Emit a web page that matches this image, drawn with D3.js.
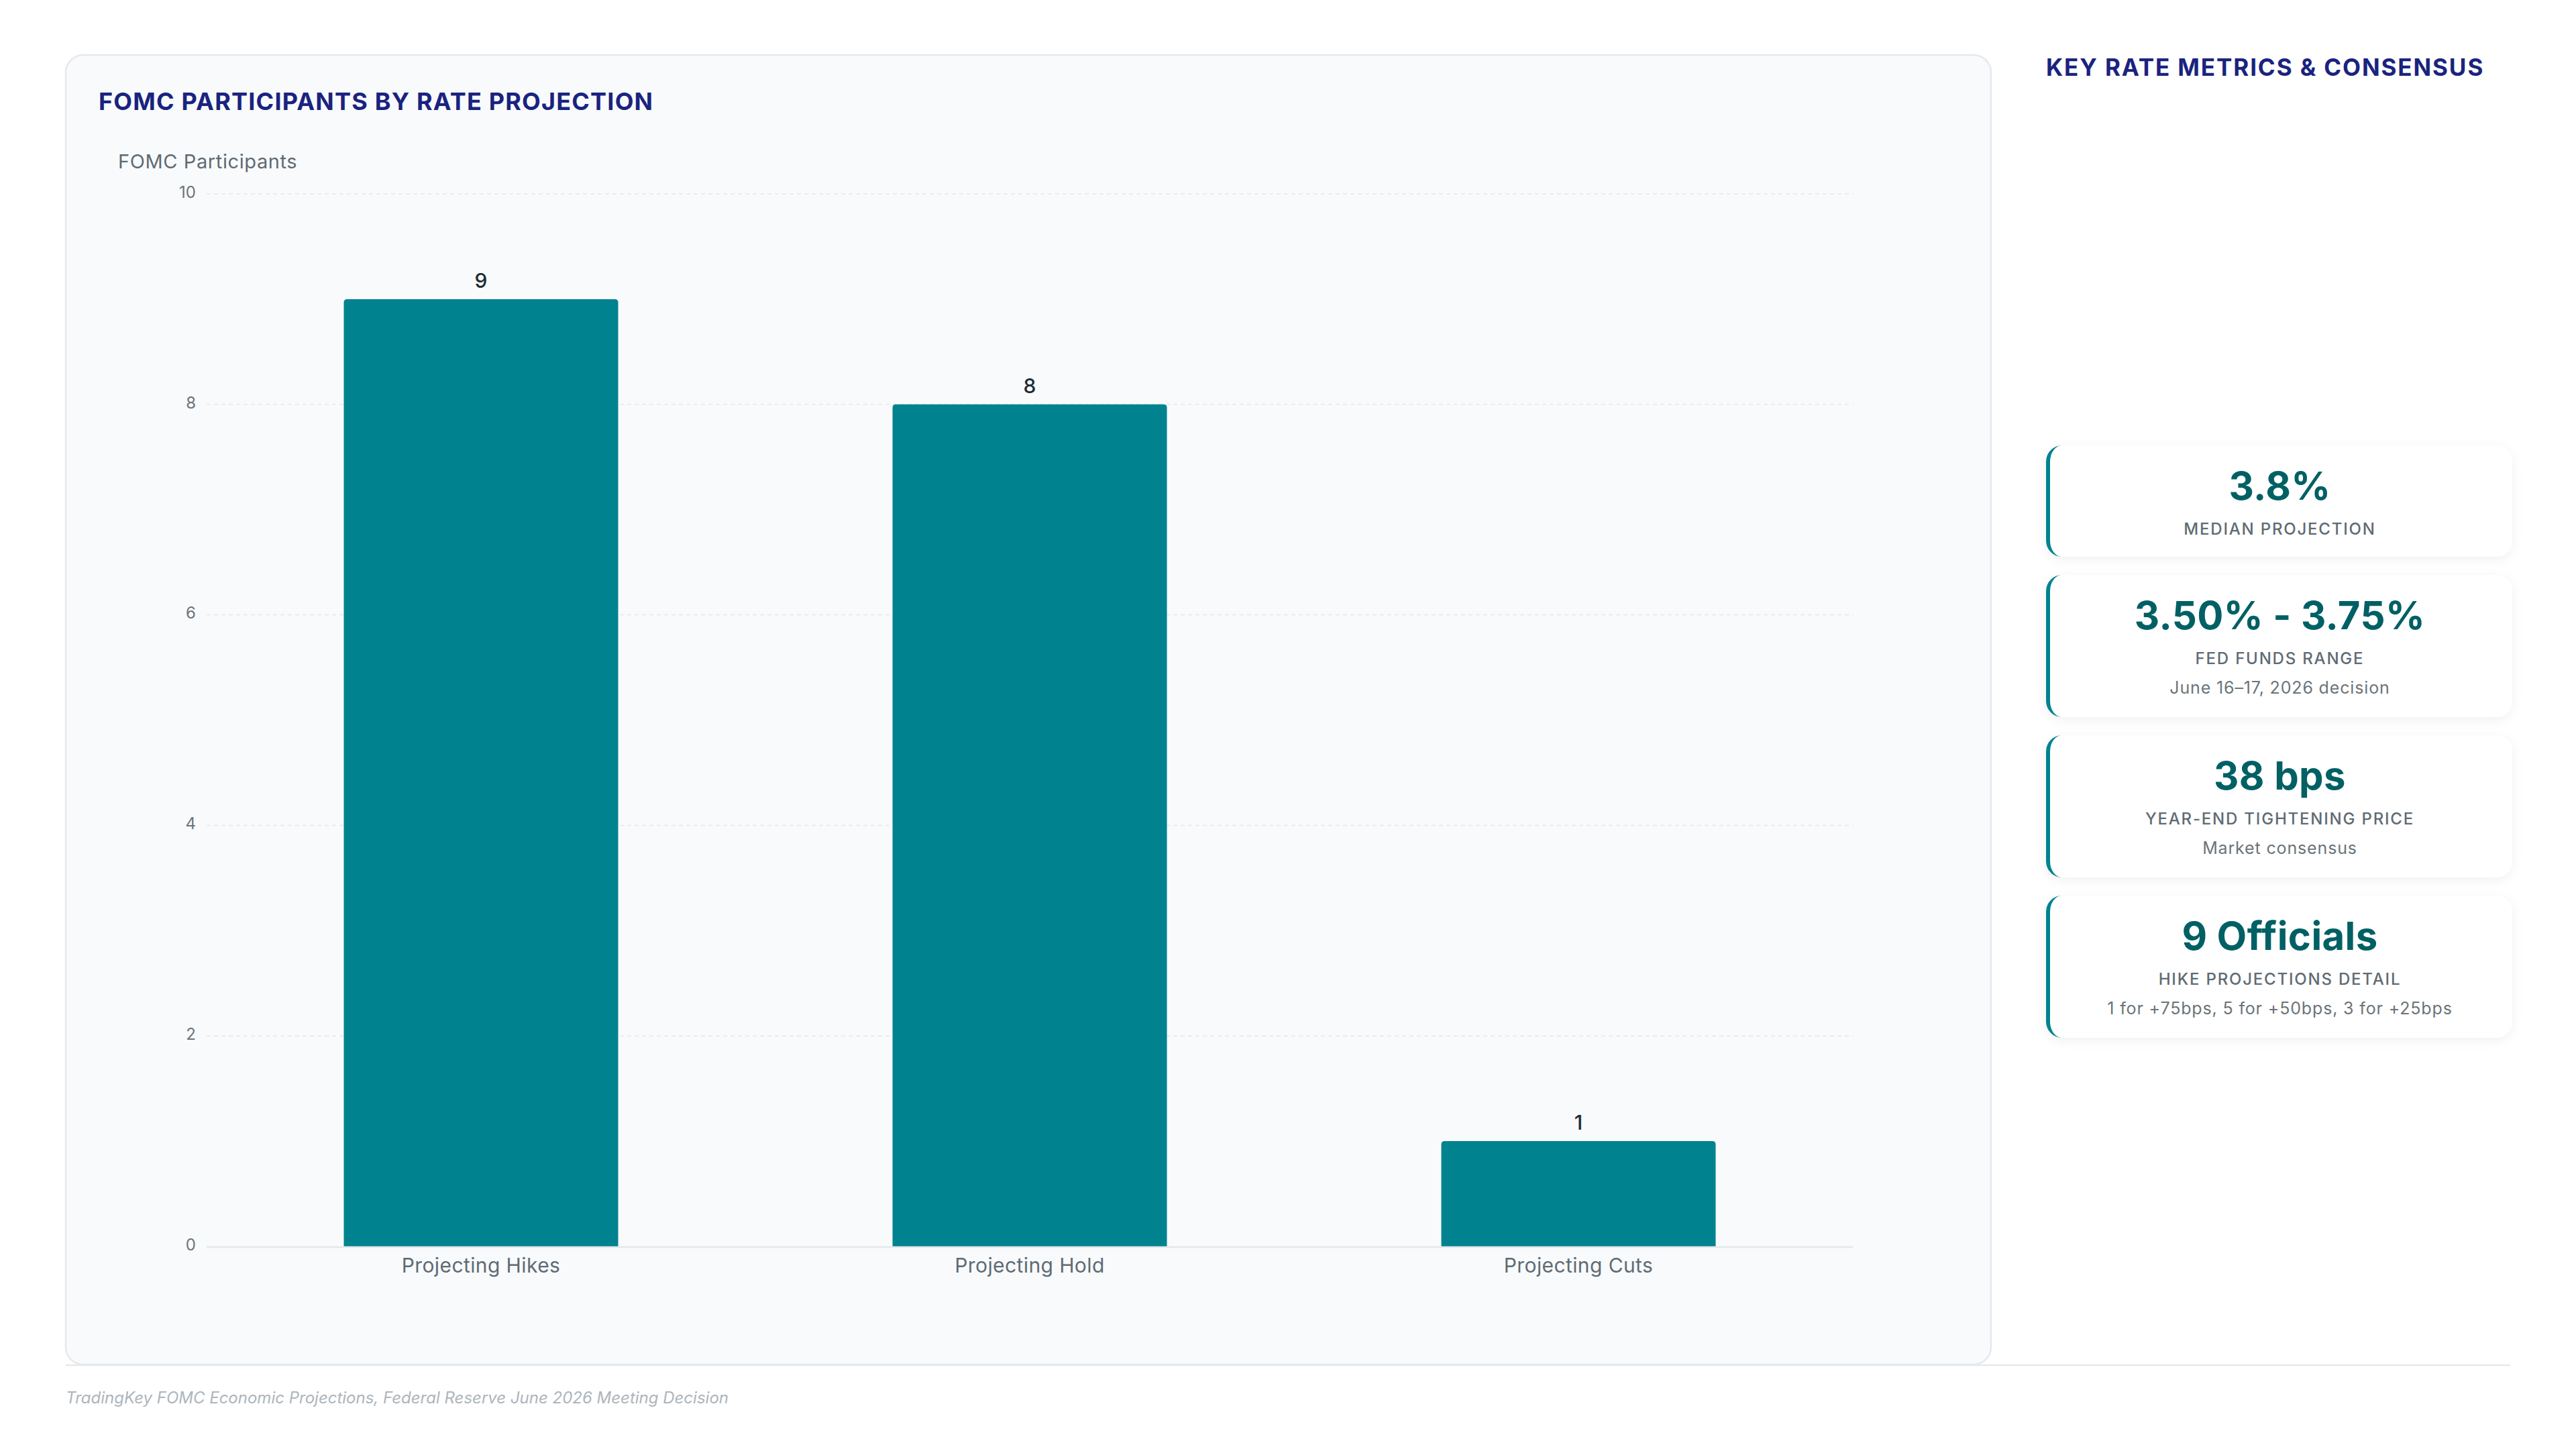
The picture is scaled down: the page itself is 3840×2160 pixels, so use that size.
<!DOCTYPE html>
<html>
<head>
<meta charset="utf-8">
<script src="https://cdn.jsdelivr.net/npm/d3@7"></script>
<style>
  html, body { margin: 0; padding: 0; background: #ffffff; }
  svg { display: block; font-family: Inter, "Noto Sans", sans-serif; }
</style>
</head>
<body>
<svg id="chart" width="3840" height="2160"></svg>
<script>
// ---- data ----
const categories = ["Projecting Hikes", "Projecting Hold", "Projecting Cuts"];
const participants = [9, 8, 1];
const yTicks = [0, 2, 4, 6, 8, 10];
const metricValues = ["3.8%", "3.50% - 3.75%", "38 bps", "9 Officials"];
const metricLabels = ["MEDIAN PROJECTION", "FED FUNDS RANGE", "YEAR-END TIGHTENING PRICE", "HIKE PROJECTIONS DETAIL"];
const metricSubs = ["", "June 16–17, 2026 decision", "Market consensus", "1 for +75bps, 5 for +50bps, 3 for +25bps"];
const chartTitle = "FOMC PARTICIPANTS BY RATE PROJECTION";
const panelTitle = "KEY RATE METRICS & CONSENSUS";
const yAxisTitle = "FOMC Participants";
const footerText = "TradingKey FOMC Economic Projections, Federal Reserve June 2026 Meeting Decision";

// ---- drawing ----
(function () {
const svg = d3.select("#chart");
const defs = svg.append("defs");
const shadow = defs.append("filter").attr("id", "shadow")
  .attr("x", "-10%").attr("y", "-20%").attr("width", "120%").attr("height", "150%");
shadow.append("feDropShadow").attr("dx", 0).attr("dy", 4).attr("stdDeviation", 8)
  .attr("flood-color", "#000").attr("flood-opacity", 0.06);

// chart card
const card = { x: 98, y: 82, w: 2870, h: 1952 };
svg.append("rect").attr("x", card.x).attr("y", card.y).attr("width", card.w).attr("height", card.h)
  .attr("rx", 26).attr("fill", "#f8fafc").attr("stroke", "#e6e9ec").attr("stroke-width", 2.5);

// footer separator
svg.append("line").attr("x1", 98).attr("x2", 3742).attr("y1", 2035).attr("y2", 2035)
  .attr("stroke", "#e6e9ec").attr("stroke-width", 2.5);

svg.append("text").attr("x", 147).attr("y", 164).text(chartTitle)
  .attr("font-size", 36).attr("font-weight", 700).attr("fill", "#1a237e").attr("letter-spacing", 1.2);

svg.append("text").attr("x", 176).attr("y", 251).text(yAxisTitle)
  .attr("font-size", 29).attr("fill", "#5f6b73").attr("letter-spacing", 0.6);

const x = d3.scaleBand().domain(categories).range([308, 2762]).paddingInner(0.5).paddingOuter(0.25);
const y = d3.scaleLinear().domain([0, 10]).range([1858, 289]);

// gridlines
svg.append("g").selectAll("line").data(yTicks.filter(d => d !== 0)).join("line")
  .attr("x1", 308).attr("x2", 2762)
  .attr("y1", d => y(d)).attr("y2", d => y(d))
  .attr("stroke", "#e4e8eb").attr("stroke-width", 1.5).attr("stroke-dasharray", "6 5");

// y axis labels via d3 axis
const yAxis = svg.append("g").attr("transform", "translate(300,0)")
  .call(d3.axisLeft(y).tickValues(yTicks).tickSize(0).tickPadding(8).tickFormat(d3.format("d")));
yAxis.select(".domain").remove();
yAxis.selectAll("text").attr("font-size", 24).attr("fill", "#6b7479")
  .attr("font-family", "Inter, sans-serif").attr("dy", "0.22em");

// bars with rounded top corners
const r = 5;
function barPath(d, i) {
  const x0 = x(categories[i]), w = x.bandwidth();
  const y0 = y(d), y1 = y(0);
  return `M${x0},${y1} V${y0 + r} Q${x0},${y0} ${x0 + r},${y0} H${x0 + w - r} Q${x0 + w},${y0} ${x0 + w},${y0 + r} V${y1} Z`;
}
svg.append("g").selectAll("path").data(participants).join("path")
  .attr("d", barPath).attr("fill", "#00838f");

// zero axis line
svg.append("line").attr("x1", 308).attr("x2", 2762).attr("y1", y(0) + 1).attr("y2", y(0) + 1)
  .attr("stroke", "#e4e8eb").attr("stroke-width", 2.5);

// value labels
svg.append("g").selectAll("text").data(participants).join("text")
  .attr("x", (d, i) => x(categories[i]) + x.bandwidth() / 2)
  .attr("y", d => y(d) - 17)
  .attr("text-anchor", "middle").attr("font-size", 30).attr("font-weight", 500).attr("fill", "#1f2a33")
  .text(d => d);

// x axis labels
const xAxis = svg.append("g").attr("transform", `translate(0,${y(0)})`)
  .call(d3.axisBottom(x).tickSize(0).tickPadding(0));
xAxis.select(".domain").remove();
xAxis.selectAll("text").attr("font-size", 30).attr("fill", "#5f6b73").attr("letter-spacing", 0.4)
  .attr("font-family", "Inter, sans-serif").attr("dy", null).attr("y", 39);

// right panel
svg.append("text").attr("x", 3050).attr("y", 113).text(panelTitle)
  .attr("font-size", 35).attr("font-weight", 700).attr("fill", "#1a237e").attr("letter-spacing", 1.9);

const mc = { x: 3050, w: 695, r: 24, bw: 6 };
let cursorY = 664;
const cardTops = [], cardHeights = [];
metricValues.forEach((v, i) => {
  const h = metricSubs[i] ? 212 : 166;
  cardTops.push(cursorY); cardHeights.push(h);
  cursorY += h + 27;
});

const mg = svg.append("g").selectAll("g").data(metricValues).join("g");
mg.append("rect")
  .attr("x", mc.x).attr("y", (d, i) => cardTops[i]).attr("width", mc.w).attr("height", (d, i) => cardHeights[i])
  .attr("rx", mc.r).attr("fill", "#ffffff").attr("filter", "url(#shadow)");
mg.append("path").attr("fill", "#00838f").attr("d", (d, i) => {
  const L = mc.x, T = cardTops[i], B = T + cardHeights[i], R = mc.r, W = mc.bw;
  return `M${L + R},${T} A${R},${R} 0 0 0 ${L},${T + R} V${B - R} A${R},${R} 0 0 0 ${L + R},${B}` +
    ` A${R - W},${R} 0 0 1 ${L + W},${B - R} V${T + R} A${R - W},${R} 0 0 1 ${L + R},${T} Z`;
});
const cx = mc.x + mc.w / 2 + 1;
mg.append("text").attr("x", cx).attr("y", (d, i) => cardTops[i] + 81)
  .attr("text-anchor", "middle").attr("font-size", 58).attr("font-weight", 700).attr("fill", "#006064")
  .attr("letter-spacing", 0.4).text(d => d);
mg.append("text").attr("x", cx).attr("y", (d, i) => cardTops[i] + 133)
  .attr("text-anchor", "middle").attr("font-size", 24).attr("font-weight", 500).attr("fill", "#5f6b73")
  .attr("letter-spacing", 1.8).text((d, i) => metricLabels[i]);
mg.append("text").attr("x", cx).attr("y", (d, i) => cardTops[i] + 177)
  .attr("text-anchor", "middle").attr("font-size", 25).attr("fill", "#6b7479")
  .attr("letter-spacing", 0.85).text((d, i) => metricSubs[i]);

// footer
svg.append("text").attr("x", 98).attr("y", 2092).text(footerText)
  .attr("font-size", 24).attr("font-style", "italic").attr("fill", "#adb5bb");
})();
</script>
</body>
</html>
